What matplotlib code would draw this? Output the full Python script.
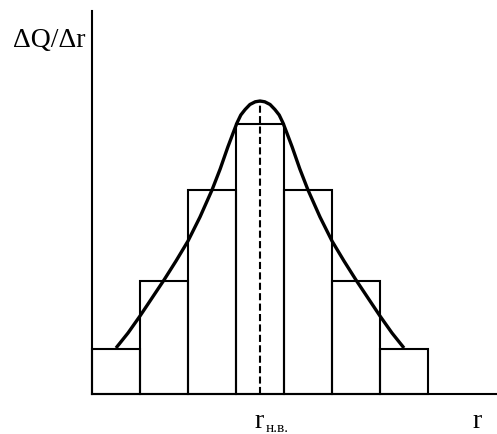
import matplotlib
matplotlib.use("Agg")
import matplotlib.pyplot as plt

# histogram of the distribution (bar edges in units of class width)
bin_edges = [0, 1, 2, 3, 4, 5, 6, 7]
bin_heights = [4.5, 11.3, 20.4, 27.0, 20.4, 11.3, 4.5]

# smooth distribution curve drawn over the bars
curve_x = [0.50, 0.75, 1.00, 1.25, 1.50, 1.75, 2.00, 2.25, 2.50, 2.67, 2.83,
           2.94, 3.02, 3.10, 3.19, 3.29, 3.40, 3.50, 3.60, 3.71, 3.81, 3.90,
           3.98, 4.06, 4.17, 4.33, 4.50, 4.75, 5.00, 5.25, 5.50, 5.75, 6.00,
           6.25, 6.50]
curve_y = [4.6, 6.1, 7.8, 9.6, 11.4, 13.3, 15.3, 17.7, 20.4, 22.5, 24.7,
           26.1, 27.1, 27.9, 28.45, 28.95, 29.22, 29.3, 29.22, 28.95, 28.45,
           27.9, 27.1, 26.1, 24.7, 22.5, 20.4, 17.7, 15.3, 13.3, 11.4, 9.6,
           7.8, 6.1, 4.6]

peak_x = 3.5
peak_y = 29.3

W, H = 497, 435
fig = plt.figure(figsize=(W / 100, H / 100), dpi=100)
ax = fig.add_axes([92 / W, (H - 395) / H, (W - 92) / W, (395 - 12) / H])
ax.set_xlim(0, (W - 92) / 48)
ax.set_ylim(0, 38.3)

for sp in ["top", "right"]:
    ax.spines[sp].set_visible(False)
for sp in ["left", "bottom"]:
    ax.spines[sp].set_linewidth(1.5)
ax.set_xticks([])
ax.set_yticks([])

widths = [bin_edges[i + 1] - bin_edges[i] for i in range(len(bin_heights))]
ax.bar(bin_edges[:-1], bin_heights, width=widths, align="edge",
       facecolor="none", edgecolor="black", linewidth=1.5, clip_on=False)

ax.plot(curve_x, curve_y, color="black", linewidth=2.4,
        solid_joinstyle="round", solid_capstyle="butt")
ax.plot([peak_x, peak_x], [0, peak_y], color="black", linewidth=1.5,
        linestyle=(0, (3.4, 1.6)))

serif = ["Liberation Serif", "DejaVu Serif"]
fig.text(13 / W, 1 - 47 / H, "ΔQ/Δr", family=serif, fontsize=20,
         ha="left", va="baseline")
fig.text(472 / W, 1 - 428 / H, "r", family=serif, fontsize=20,
         ha="left", va="baseline")
fig.text(254 / W, 1 - 428 / H, "r", family=serif, fontsize=20,
         ha="left", va="baseline")
fig.text(266 / W, 1 - 432 / H, "н.в.", family=serif, fontsize=11,
         ha="left", va="baseline")

fig.savefig("out.png", dpi=100)
